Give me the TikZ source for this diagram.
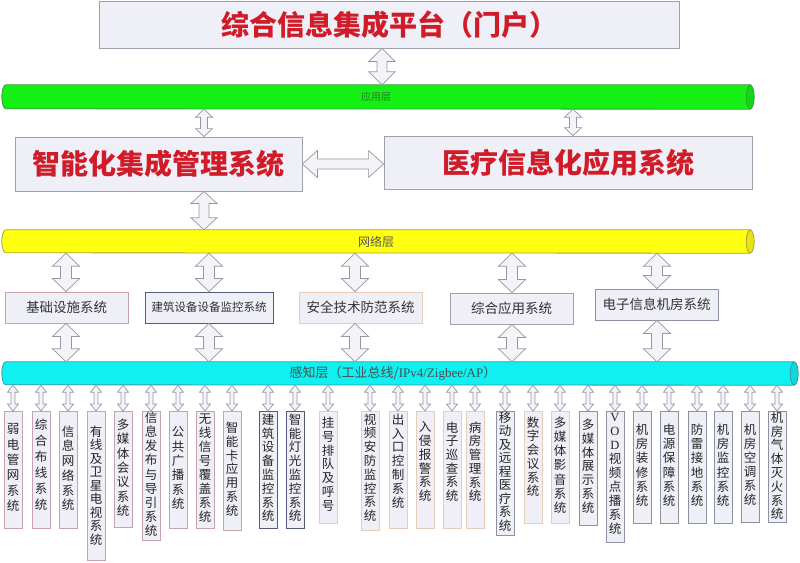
\documentclass[tikz,border=0pt]{standalone}
\usepackage{fontspec}
\setmainfont{Liberation Serif}
\newfontfamily\cjk{Noto Sans CJK SC}
\usetikzlibrary{calc}
\definecolor{boxfill}{HTML}{EEEFF7}
\definecolor{boxline}{HTML}{A0A0AC}
\definecolor{titlered}{HTML}{D01C28}
\definecolor{arrfill}{HTML}{F4F4F8}
\definecolor{arrline}{HTML}{9498A4}
\definecolor{mauve}{HTML}{C9A2B2}
\definecolor{navy}{HTML}{535A7A}
\definecolor{peach}{HTML}{E8CBB8}
\definecolor{grayb}{HTML}{8C92A2}
\definecolor{greenbar}{HTML}{14F014}
\definecolor{greenline}{HTML}{3C9C3C}
\definecolor{yellowbar}{HTML}{FFFF10}
\definecolor{yellowline}{HTML}{A8A040}
\definecolor{cyanbar}{HTML}{10F0F0}
\definecolor{cyanline}{HTML}{3A98A8}
\tikzset{
  blockarrow/.style={fill=arrfill, draw=arrline, line width=0.7pt, line join=miter},
  bigbox/.style={draw=boxline, fill=boxfill, line width=0.8pt, inner sep=0pt},
  rowbox/.style={fill=boxfill, line width=0.9pt, inner sep=0pt, minimum height=31pt, text=black!80,
    font=\cjk\fontsize{13.5}{15}\selectfont},
  colbox/.style={fill=boxfill, line width=0.9pt, inner sep=0pt, minimum width=18pt},
  coltext/.style={align=center, inner sep=0pt, text=black!85},
  barline/.style={line width=0.8pt},
}
\newcommand{\VArr}[5]{%
  \draw[blockarrow] let \p1=#1, \p2=#2 in
   (\x1,\y1) -- (\x1+#3,\y1-#5) -- (\x1+#4,\y1-#5) -- (\x1+#4,\y2+#5) -- (\x1+#3,\y2+#5)
   -- (\x1,\y2) -- (\x1-#3,\y2+#5) -- (\x1-#4,\y2+#5) -- (\x1-#4,\y1-#5) -- (\x1-#3,\y1-#5) -- cycle;}
\newcommand{\HArr}[5]{%
  \draw[blockarrow] let \p1=#1, \p2=#2 in
   (\x1,\y1) -- (\x1+#5,\y1+#3) -- (\x1+#5,\y1+#4) -- (\x2-#5,\y1+#4) -- (\x2-#5,\y1+#3)
   -- (\x2,\y1) -- (\x2-#5,\y1-#3) -- (\x2-#5,\y1-#4) -- (\x1+#5,\y1-#4) -- (\x1+#5,\y1-#3) -- cycle;}
\newcommand{\Col}[7]{%
  \node[colbox, draw=#6, anchor=north, minimum height={#3-411}] (#1) at (#2,411) {};
  \node[coltext, anchor=north, font=\cjk\fontsize{12.5}{#5}\selectfont] (#1t) at (#2,{#4-6.5}) {#7};
  \VArr{(#2,0 |- sense.south)}{(#1.north)}{5.5pt}{2pt}{7pt}
}
\newcommand{\Bar}[8]{%
  \node[inner sep=0pt, minimum width=#4pt, minimum height=#5pt] (#1) at (#2,#3) {};
  \draw[barline, fill=#7, draw=#8] (#1.north east) -- ([xshift=4pt]#1.north west)
     arc[start angle=90, end angle=270, x radius=4pt, y radius=#6pt] -- (#1.south east) -- cycle;
  \draw[barline, fill=#7!90!black, draw=#8] (#1.east) ellipse [x radius=4pt, y radius=#6pt];
}
\begin{document}
\begin{tikzpicture}[x=1pt,y=-1pt]
\useasboundingbox[fill=white] (0,0) rectangle (800,562);

% top
\node[bigbox, minimum width=580pt, minimum height=47pt] (top) at (389,24.5)
  {\cjk\bfseries\fontsize{28}{30}\selectfont\color{titlered}综合信息集成平台（门户）};

% bars
\Bar{app}{376}{97}{748}{24}{12}{greenbar}{greenline}
\node[font=\cjk\fontsize{10}{11}\selectfont, text=black!55!green!60!gray] (applbl) at (376,97) {应用层};

\Bar{net}{376}{241.5}{748}{23}{11.5}{yellowbar}{yellowline}
\node[font=\cjk\fontsize{12}{13}\selectfont, text=black!65] (netlbl) at (376,241.5) {网络层};

\Bar{sense}{398}{373.5}{792}{23}{11.5}{cyanbar}{cyanline}
\node[font=\fontsize{13}{14}\selectfont, text=black!70] (senselbl) at (393,373.5)
  {{\cjk 感知层（工业总线/}IPv4/Zigbee/AP{\cjk ）}};

% middle boxes
\node[bigbox, minimum width=287pt, minimum height=54pt] (lsys) at (158.5,164)
  {\cjk\bfseries\fontsize{28}{30}\selectfont\color{titlered}智能化集成管理系统};
\node[bigbox, minimum width=368pt, minimum height=53pt] (rsys) at (568,162.5)
  {\cjk\bfseries\fontsize{28}{30}\selectfont\color{titlered}医疗信息化应用系统};

\VArr{(382,0 |- top.south)}{(382,0 |- app.north)}{13pt}{5pt}{13pt}
\VArr{(204,0 |- app.south)}{(204,0 |- lsys.north)}{8.5pt}{3.5pt}{8pt}
\VArr{(573,0 |- app.south)}{(573,0 |- rsys.north)}{8.5pt}{3.5pt}{8pt}
\HArr{(lsys.east)}{(rsys.west |- lsys.east)}{13.5pt}{5pt}{15pt}
\VArr{(204,0 |- lsys.south)}{(204,0 |- net.north)}{13pt}{5pt}{12pt}

% row of five systems
\node[rowbox, draw=mauve, minimum width=123pt] (b1) at (66.5,307.5) {基础设施系统};
\node[rowbox, draw=navy, minimum width=128pt, font=\cjk\fontsize{11.5}{13}\selectfont] (b2) at (209,307.5) {建筑设备设备监控系统};
\node[rowbox, draw=peach, minimum width=123pt] (b3) at (360.5,307.5) {安全技术防范系统};
\node[rowbox, draw=boxline, minimum width=123pt] (b4) at (511.5,308.5) {综合应用系统};
\node[rowbox, draw=grayb, minimum width=123pt] (b5) at (656.5,304.5) {电子信息机房系统};

\foreach \nm/\px in {b1/66,b2/209,b3/355,b4/512,b5/657}{
  \VArr{(\px,0 |- net.south)}{(\px,0 |- \nm.north)}{13.5pt}{5.5pt}{13pt}
  \VArr{(\px,0 |- \nm.south)}{(\px,0 |- sense.north)}{13.5pt}{5.5pt}{13pt}
}

% columns
\Col{c1}{13}{528}{430}{15.4}{mauve}{弱\\电\\管\\网\\系\\统}
\Col{c2}{41}{528}{425}{16}{mauve}{综\\合\\布\\线\\系\\统}
\Col{c3}{68}{528}{432}{14.7}{mauve}{信\\息\\网\\络\\系\\统}
\Col{c4}{96}{560}{432}{13.5}{mauve}{有\\线\\及\\卫\\星\\电\\视\\系\\统}
\Col{c5}{123}{527}{425}{14.4}{mauve}{多\\媒\\体\\会\\议\\系\\统}
\Col{c6}{151}{540}{418}{14.2}{mauve}{信\\息\\发\\布\\与\\导\\引\\系\\统}
\Col{c7}{178}{528}{433}{14.3}{mauve}{公\\共\\广\\播\\系\\统}
\Col{c8}{205}{528}{420}{14}{mauve}{无\\线\\信\\号\\覆\\盖\\系\\统}
\Col{c9}{232}{530}{428}{13.9}{mauve}{智\\能\\卡\\应\\用\\系\\统}
\Col{c10}{268}{528}{420}{13.8}{navy}{建\\筑\\设\\备\\监\\控\\系\\统}
\Col{c11}{295}{528}{420}{13.8}{navy}{智\\能\\灯\\光\\监\\控\\系\\统}
\Col{c12}{328}{523}{423}{13.9}{peach}{挂\\号\\排\\队\\及\\呼\\号}
\Col{c13}{370}{530}{420}{13.8}{peach}{视\\频\\安\\防\\监\\控\\系\\统}
\Col{c14}{398}{528}{420}{13.9}{peach}{出\\入\\口\\控\\制\\系\\统}
\Col{c15}{425}{528}{428}{13.7}{peach}{入\\侵\\报\\警\\系\\统}
\Col{c16}{452}{528}{428}{13.7}{peach}{电\\子\\巡\\查\\系\\统}
\Col{c17}{475}{528}{428}{13.7}{peach}{病\\房\\管\\理\\系\\统}
\Col{c18}{505}{535}{418}{13.5}{grayb}{移\\动\\及\\远\\程\\医\\疗\\系\\统}
\Col{c19}{533}{523}{423}{13.7}{peach}{数\\字\\会\\议\\系\\统}
\Col{c20}{560}{523}{423}{14.2}{peach}{多\\媒\\体\\影\\音\\系\\统}
\Col{c21}{588}{525}{425}{13.9}{grayb}{多\\媒\\体\\展\\示\\系\\统}
\Col{c22}{615}{542}{420}{14}{grayb}{{\rmfamily V}\\{\rmfamily O}\\{\rmfamily D}\\视\\频\\点\\播\\系\\统}
\Col{c23}{642}{523}{430}{14.3}{grayb}{机\\房\\装\\修\\系\\统}
\Col{c24}{669}{523}{430}{14.3}{grayb}{电\\源\\保\\障\\系\\统}
\Col{c25}{697}{523}{430}{14.3}{grayb}{防\\雷\\接\\地\\系\\统}
\Col{c26}{723}{523}{430}{14.3}{grayb}{机\\房\\监\\控\\系\\统}
\Col{c27}{750}{522}{430}{14}{grayb}{机\\房\\空\\调\\系\\统}
\Col{c28}{777}{522}{418}{13.8}{grayb}{机\\房\\气\\体\\灭\\火\\系\\统}
\end{tikzpicture}
\end{document}
